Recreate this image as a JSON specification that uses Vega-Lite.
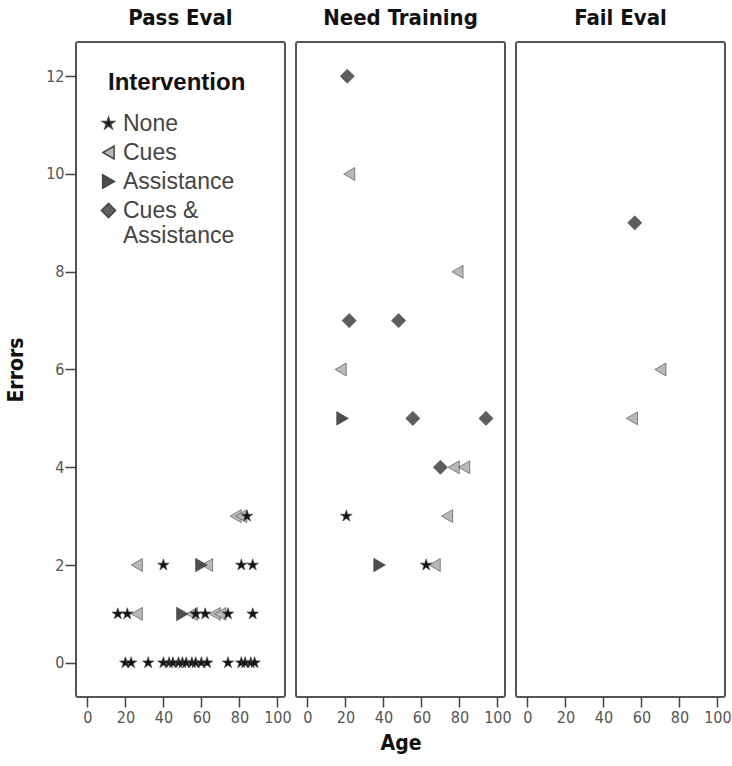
{
  "$schema": "https://vega.github.io/schema/vega-lite/v6.json",
  "background": "white",
  "padding": {"left": 4, "top": 6, "right": 0, "bottom": 5},
  "spacing": 11,
  "bounds": "flush",
  "datasets": {"pts": [
    {"Evaluation": "Pass Eval", "Age": 78, "Errors": 3, "Intervention": "Cues"},
    {"Evaluation": "Pass Eval", "Age": 81, "Errors": 3, "Intervention": "Cues"},
    {"Evaluation": "Pass Eval", "Age": 84, "Errors": 3, "Intervention": "None"},
    {"Evaluation": "Pass Eval", "Age": 26, "Errors": 2, "Intervention": "Cues"},
    {"Evaluation": "Pass Eval", "Age": 40, "Errors": 2, "Intervention": "None"},
    {"Evaluation": "Pass Eval", "Age": 63, "Errors": 2, "Intervention": "Cues"},
    {"Evaluation": "Pass Eval", "Age": 60, "Errors": 2, "Intervention": "Assistance"},
    {"Evaluation": "Pass Eval", "Age": 81, "Errors": 2, "Intervention": "None"},
    {"Evaluation": "Pass Eval", "Age": 87, "Errors": 2, "Intervention": "None"},
    {"Evaluation": "Pass Eval", "Age": 16, "Errors": 1, "Intervention": "None"},
    {"Evaluation": "Pass Eval", "Age": 21, "Errors": 1, "Intervention": "None"},
    {"Evaluation": "Pass Eval", "Age": 26, "Errors": 1, "Intervention": "Cues"},
    {"Evaluation": "Pass Eval", "Age": 55, "Errors": 1, "Intervention": "Cues"},
    {"Evaluation": "Pass Eval", "Age": 50, "Errors": 1, "Intervention": "Assistance"},
    {"Evaluation": "Pass Eval", "Age": 57, "Errors": 1, "Intervention": "None"},
    {"Evaluation": "Pass Eval", "Age": 62, "Errors": 1, "Intervention": "None"},
    {"Evaluation": "Pass Eval", "Age": 67, "Errors": 1, "Intervention": "Cues"},
    {"Evaluation": "Pass Eval", "Age": 70, "Errors": 1, "Intervention": "Cues"},
    {"Evaluation": "Pass Eval", "Age": 74, "Errors": 1, "Intervention": "None"},
    {"Evaluation": "Pass Eval", "Age": 87, "Errors": 1, "Intervention": "None"},
    {"Evaluation": "Pass Eval", "Age": 20, "Errors": 0, "Intervention": "None"},
    {"Evaluation": "Pass Eval", "Age": 23, "Errors": 0, "Intervention": "None"},
    {"Evaluation": "Pass Eval", "Age": 32, "Errors": 0, "Intervention": "None"},
    {"Evaluation": "Pass Eval", "Age": 40, "Errors": 0, "Intervention": "None"},
    {"Evaluation": "Pass Eval", "Age": 43, "Errors": 0, "Intervention": "None"},
    {"Evaluation": "Pass Eval", "Age": 45, "Errors": 0, "Intervention": "None"},
    {"Evaluation": "Pass Eval", "Age": 48, "Errors": 0, "Intervention": "None"},
    {"Evaluation": "Pass Eval", "Age": 50, "Errors": 0, "Intervention": "None"},
    {"Evaluation": "Pass Eval", "Age": 52, "Errors": 0, "Intervention": "None"},
    {"Evaluation": "Pass Eval", "Age": 55, "Errors": 0, "Intervention": "None"},
    {"Evaluation": "Pass Eval", "Age": 57, "Errors": 0, "Intervention": "None"},
    {"Evaluation": "Pass Eval", "Age": 60, "Errors": 0, "Intervention": "None"},
    {"Evaluation": "Pass Eval", "Age": 63, "Errors": 0, "Intervention": "None"},
    {"Evaluation": "Pass Eval", "Age": 74, "Errors": 0, "Intervention": "None"},
    {"Evaluation": "Pass Eval", "Age": 81, "Errors": 0, "Intervention": "None"},
    {"Evaluation": "Pass Eval", "Age": 83, "Errors": 0, "Intervention": "None"},
    {"Evaluation": "Pass Eval", "Age": 86, "Errors": 0, "Intervention": "None"},
    {"Evaluation": "Pass Eval", "Age": 88, "Errors": 0, "Intervention": "None"},
    {"Evaluation": "Need Training", "Age": 21, "Errors": 12, "Intervention": "Cues & Assistance"},
    {"Evaluation": "Need Training", "Age": 22, "Errors": 10, "Intervention": "Cues"},
    {"Evaluation": "Need Training", "Age": 79, "Errors": 8, "Intervention": "Cues"},
    {"Evaluation": "Need Training", "Age": 22, "Errors": 7, "Intervention": "Cues & Assistance"},
    {"Evaluation": "Need Training", "Age": 48, "Errors": 7, "Intervention": "Cues & Assistance"},
    {"Evaluation": "Need Training", "Age": 17.5, "Errors": 6, "Intervention": "Cues"},
    {"Evaluation": "Need Training", "Age": 18.5, "Errors": 5, "Intervention": "Assistance"},
    {"Evaluation": "Need Training", "Age": 55.5, "Errors": 5, "Intervention": "Cues & Assistance"},
    {"Evaluation": "Need Training", "Age": 94, "Errors": 5, "Intervention": "Cues & Assistance"},
    {"Evaluation": "Need Training", "Age": 77, "Errors": 4, "Intervention": "Cues"},
    {"Evaluation": "Need Training", "Age": 82.5, "Errors": 4, "Intervention": "Cues"},
    {"Evaluation": "Need Training", "Age": 70, "Errors": 4, "Intervention": "Cues & Assistance"},
    {"Evaluation": "Need Training", "Age": 20.5, "Errors": 3, "Intervention": "None"},
    {"Evaluation": "Need Training", "Age": 73.5, "Errors": 3, "Intervention": "Cues"},
    {"Evaluation": "Need Training", "Age": 38, "Errors": 2, "Intervention": "Assistance"},
    {"Evaluation": "Need Training", "Age": 67, "Errors": 2, "Intervention": "Cues"},
    {"Evaluation": "Need Training", "Age": 62.5, "Errors": 2, "Intervention": "None"},
    {"Evaluation": "Fail Eval", "Age": 56.5, "Errors": 9, "Intervention": "Cues & Assistance"},
    {"Evaluation": "Fail Eval", "Age": 70, "Errors": 6, "Intervention": "Cues"},
    {"Evaluation": "Fail Eval", "Age": 55, "Errors": 5, "Intervention": "Cues"}
  ]},
  "hconcat": [
    {
      "title": "Pass Eval",
      "width": 209, "height": 655,
      "data": {"name": "pts"},
      "transform": [{"filter": "datum.Evaluation == 'Pass Eval'"}],
      "mark": {"type": "point", "filled": true, "opacity": 1, "stroke": "#444", "strokeWidth": 0.6},
      "encoding": {
        "x": {"field": "Age", "type": "quantitative", "scale": {"domain": [-6, 104], "nice": false, "zero": false}, "axis": {"values": [0, 20, 40, 60, 80, 100], "title": null, "grid": false}},
        "y": {"field": "Errors", "type": "quantitative", "scale": {"domain": [-0.7, 12.7], "nice": false, "zero": false}, "axis": {"values": [0, 2, 4, 6, 8, 10, 12], "title": "Errors", "grid": false}},
        "shape": {"field": "Intervention", "type": "nominal", "legend": {"title": "Intervention", "labelExpr": "datum.label == 'Cues & Assistance' ? ['Cues &', 'Assistance'] : datum.label"},
          "scale": {"domain": ["None", "Cues", "Assistance", "Cues & Assistance"], "range": ["M0,-1L0.2245,-0.309L0.951,-0.309L0.363,0.118L0.588,0.809L0,0.382L-0.588,0.809L-0.363,0.118L-0.951,-0.309L-0.2245,-0.309Z", "triangle-left", "triangle-right", "diamond"]}},
        "fill": {"field": "Intervention", "type": "nominal", "legend": {"title": "Intervention", "labelExpr": "datum.label == 'Cues & Assistance' ? ['Cues &', 'Assistance'] : datum.label"},
          "scale": {"domain": ["None", "Cues", "Assistance", "Cues & Assistance"], "range": ["#151515", "#b8b8b8", "#4e4e4e", "#5e5e5e"]}},
        "size": {"field": "Intervention", "type": "nominal", "legend": {"title": "Intervention", "labelExpr": "datum.label == 'Cues & Assistance' ? ['Cues &', 'Assistance'] : datum.label"},
          "scale": {"domain": ["None", "Cues", "Assistance", "Cues & Assistance"], "range": [150, 200, 200, 380]}}
      }
    },
    {
      "title": "Need Training",
      "width": 209, "height": 655,
      "data": {"name": "pts"},
      "transform": [{"filter": "datum.Evaluation == 'Need Training'"}],
      "mark": {"type": "point", "filled": true, "opacity": 1, "stroke": "#444", "strokeWidth": 0.6},
      "encoding": {
        "x": {"field": "Age", "type": "quantitative", "scale": {"domain": [-6, 104], "nice": false, "zero": false}, "axis": {"values": [0, 20, 40, 60, 80, 100], "title": "Age", "grid": false}},
        "y": {"field": "Errors", "type": "quantitative", "scale": {"domain": [-0.7, 12.7], "nice": false, "zero": false}, "axis": null},
        "shape": {"field": "Intervention", "type": "nominal", "legend": {"title": "Intervention", "labelExpr": "datum.label == 'Cues & Assistance' ? ['Cues &', 'Assistance'] : datum.label"},
          "scale": {"domain": ["None", "Cues", "Assistance", "Cues & Assistance"], "range": ["M0,-1L0.2245,-0.309L0.951,-0.309L0.363,0.118L0.588,0.809L0,0.382L-0.588,0.809L-0.363,0.118L-0.951,-0.309L-0.2245,-0.309Z", "triangle-left", "triangle-right", "diamond"]}},
        "fill": {"field": "Intervention", "type": "nominal", "legend": {"title": "Intervention", "labelExpr": "datum.label == 'Cues & Assistance' ? ['Cues &', 'Assistance'] : datum.label"},
          "scale": {"domain": ["None", "Cues", "Assistance", "Cues & Assistance"], "range": ["#151515", "#b8b8b8", "#4e4e4e", "#5e5e5e"]}},
        "size": {"field": "Intervention", "type": "nominal", "legend": {"title": "Intervention", "labelExpr": "datum.label == 'Cues & Assistance' ? ['Cues &', 'Assistance'] : datum.label"},
          "scale": {"domain": ["None", "Cues", "Assistance", "Cues & Assistance"], "range": [150, 200, 200, 380]}}
      }
    },
    {
      "title": "Fail Eval",
      "width": 209, "height": 655,
      "data": {"name": "pts"},
      "transform": [{"filter": "datum.Evaluation == 'Fail Eval'"}],
      "mark": {"type": "point", "filled": true, "opacity": 1, "stroke": "#444", "strokeWidth": 0.6},
      "encoding": {
        "x": {"field": "Age", "type": "quantitative", "scale": {"domain": [-6, 104], "nice": false, "zero": false}, "axis": {"values": [0, 20, 40, 60, 80, 100], "title": null, "grid": false}},
        "y": {"field": "Errors", "type": "quantitative", "scale": {"domain": [-0.7, 12.7], "nice": false, "zero": false}, "axis": null},
        "shape": {"field": "Intervention", "type": "nominal", "legend": {"title": "Intervention", "labelExpr": "datum.label == 'Cues & Assistance' ? ['Cues &', 'Assistance'] : datum.label"},
          "scale": {"domain": ["None", "Cues", "Assistance", "Cues & Assistance"], "range": ["M0,-1L0.2245,-0.309L0.951,-0.309L0.363,0.118L0.588,0.809L0,0.382L-0.588,0.809L-0.363,0.118L-0.951,-0.309L-0.2245,-0.309Z", "triangle-left", "triangle-right", "diamond"]}},
        "fill": {"field": "Intervention", "type": "nominal", "legend": {"title": "Intervention", "labelExpr": "datum.label == 'Cues & Assistance' ? ['Cues &', 'Assistance'] : datum.label"},
          "scale": {"domain": ["None", "Cues", "Assistance", "Cues & Assistance"], "range": ["#151515", "#b8b8b8", "#4e4e4e", "#5e5e5e"]}},
        "size": {"field": "Intervention", "type": "nominal", "legend": {"title": "Intervention", "labelExpr": "datum.label == 'Cues & Assistance' ? ['Cues &', 'Assistance'] : datum.label"},
          "scale": {"domain": ["None", "Cues", "Assistance", "Cues & Assistance"], "range": [150, 200, 200, 380]}}
      }
    }
  ],
  "config": {
    "font": "Liberation Sans",
    "view": {"stroke": "#555", "strokeWidth": 2, "cornerRadius": 2},
    "title": {"font": "DejaVu Sans Condensed", "fontSize": 22, "fontWeight": "bold", "color": "#111", "offset": 12, "anchor": "middle"},
    "axis": {
      "domain": false,
      "tickColor": "#444",
      "tickWidth": 1.5,
      "labelFont": "DejaVu Sans Condensed",
      "labelColor": "#555",
      "labelFontSize": 16,
      "titleFont": "DejaVu Sans Condensed",
      "titleFontSize": 21,
      "titleFontWeight": "bold",
      "titleColor": "#111"
    },
    "axisX": {"tickSize": 10, "labelPadding": 2, "titlePadding": 7},
    "axisY": {"tickSize": 11, "labelPadding": 1, "titlePadding": 19},
    "legend": {
      "orient": "none",
      "legendX": 32,
      "legendY": 29,
      "symbolOffset": -11,
      "titleFont": "Liberation Sans",
      "titleFontSize": 24,
      "titleFontWeight": "bold",
      "titleColor": "#111",
      "titlePadding": 17,
      "labelFont": "Liberation Sans",
      "labelFontSize": 23,
      "labelColor": "#444",
      "labelOffset": 3,
      "rowPadding": 5
    }
  }
}
